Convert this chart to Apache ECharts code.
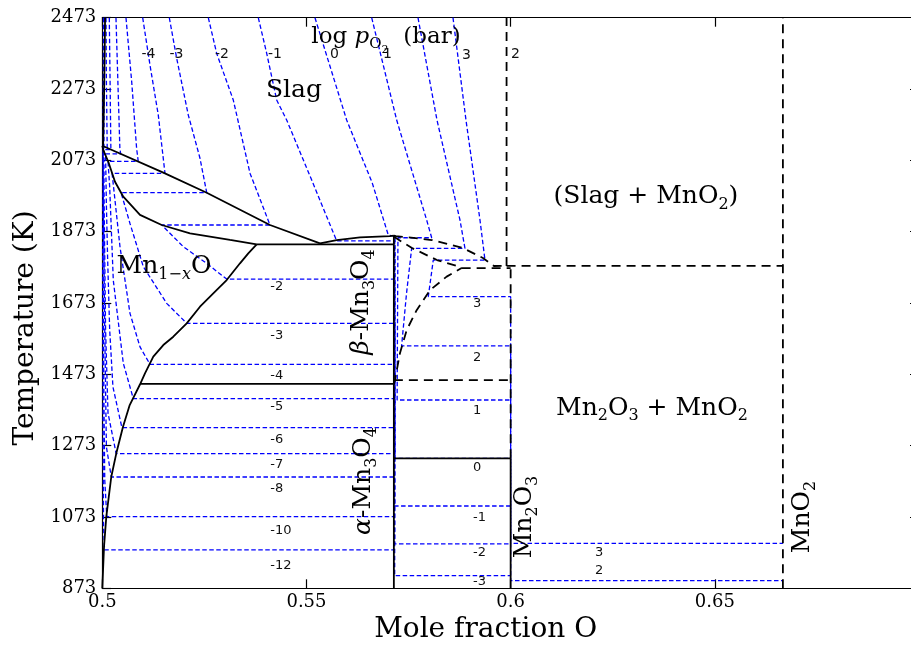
<!DOCTYPE html>
<html>
<head>
<meta charset="utf-8">
<script src="https://cdn.jsdelivr.net/npm/echarts/dist/echarts.min.js"></script>
<style>
  html, body { margin: 0; padding: 0; background: #fff; }
  #chart { width: 911px; height: 645px; }
</style>
</head>
<body>
<div id="chart"></div>
<script>
// ---- axis ticks ----
const tempTicks = [873, 1073, 1273, 1473, 1673, 1873, 2073, 2273, 2473];   // K
const xoTicks = [0.5, 0.55, 0.6, 0.65, 0.7];                              // mole fraction O
const xoLabelled = [0.5, 0.55, 0.6, 0.65];

// ---- phase boundaries, solid: [x_O, T(K)] ----
const liquidusMnO = [[0.5, 2114], [0.51494, 2038.4], [0.52557, 1982.3], [0.54107, 1891.7], [0.55331, 1840.4]];
const solidusMnO = [[0.5, 2114], [0.5003, 2100], [0.50147, 2069], [0.50311, 2013], [0.50514, 1971], [0.50923, 1920],
  [0.51455, 1891.7], [0.52148, 1868.5], [0.53128, 1849.7], [0.53781, 1837.6]];
const slagEdge = [[0.50068, 2473], [0.5005, 2300], [0.5002, 2114]];
const solvusMnO = [[0.5, 873], [0.50042, 989.5], [0.50098, 1073.7], [0.5022, 1185.8], [0.50343, 1251.5], [0.50507, 1326],
  [0.50671, 1386.9], [0.50916, 1443], [0.51045, 1475.8], [0.51249, 1522.4], [0.51494, 1555.1], [0.51739, 1578.4],
  [0.52067, 1616], [0.52392, 1662.6], [0.52718, 1700.1], [0.53046, 1737.4], [0.53372, 1784.3], [0.53575, 1812.3],
  [0.53781, 1837.6]];
const eutecticLine = [[0.53781, 1837.6], [0.5714, 1837.6]];
const liquidusMn3O4 = [[0.55331, 1840.4], [0.5574, 1849.5], [0.5631, 1857], [0.57045, 1860.6], [0.5714, 1862]];
const mn3o4Line = [[0.5714, 873], [0.5714, 1862]];
const alphaBetaLine = [[0.5093, 1446], [0.5714, 1446]];
const mn2o3Decomp = [[0.5714, 1237.5], [0.6, 1237.5]];
const mn2o3Low = [[0.6, 873], [0.6, 1237.5]];

// ---- estimated boundaries, dashed ----
const liquidusOUpper = [[0.5714, 1862], [0.57192, 1860.8], [0.58073, 1849.6], [0.58832, 1827.2], [0.59322, 1799.2],
  [0.59591, 1776.8], [0.5963, 1772], [0.599, 1777]];
const liquidusOLower = [[0.5714, 1860], [0.57192, 1855], [0.57584, 1827], [0.58196, 1793.5], [0.58759, 1774], [0.588, 1771]];
const peritecticLine = [[0.588, 1771], [0.6, 1771]];
const solvusMn3O4 = [[0.5714, 1446], [0.57167, 1457], [0.57289, 1532], [0.57454, 1597], [0.57698, 1653], [0.58024, 1709],
  [0.58433, 1747], [0.588, 1771]];
const betaMn2O3Line = [[0.5714, 1457], [0.6, 1457]];
const mn2o3High = [[0.6, 1237.5], [0.6, 1777]];
const slagMnO2Left = [[0.599, 1777], [0.599, 2473]];
const slagMnO2Base = [[0.599, 1777], [0.66667, 1777]];
const mno2Line = [[0.66667, 873], [0.66667, 2473]];

// ---- oxygen isobars, log pO2 (bar) ----
const isoM12 = [[0.5003, 2473], [0.5002, 2112], [0.5001, 1800], [0.5002, 1300], [0.5003, 1050], [0.50055, 980.5], [0.5714, 980.5]];
const isoM10 = [[0.5005, 2473], [0.5004, 2111], [0.5002, 1800], [0.5004, 1400], [0.5006, 1177], [0.5011, 1073.8], [0.5714, 1073.8]];
const isoM8 = [[0.50091, 2473], [0.501, 2300], [0.5012, 2108], [0.5002, 2108], [0.5003, 1900], [0.5006, 1600], [0.501, 1270],
  [0.5022, 1185.1], [0.5714, 1185.1]];
const isoM7 = [[0.50171, 2473], [0.5019, 2300], [0.5021, 2103], [0.5003, 2103], [0.5005, 1900], [0.5008, 1600], [0.5014, 1364],
  [0.5034, 1250.5], [0.5714, 1250.5]];
const isoM6 = [[0.50335, 2473], [0.5038, 2300], [0.5043, 2107], [0.5045, 2091], [0.5008, 2091], [0.501, 1950], [0.5013, 1800],
  [0.5018, 1600], [0.5026, 1438], [0.5048, 1323.4], [0.5714, 1323.4]];
const isoM5 = [[0.5058, 2473], [0.5072, 2293.5], [0.5084, 2106.8], [0.5088, 2070], [0.5014, 2070], [0.5018, 2000], [0.50269, 1737],
  [0.50514, 1504], [0.50759, 1405], [0.5714, 1405]];
const isoM4 = [[0.50989, 2473], [0.51168, 2340], [0.51371, 2200], [0.51535, 2036.6], [0.5024, 2036.6], [0.50433, 1830.8],
  [0.50678, 1644], [0.50923, 1550], [0.51168, 1501], [0.5714, 1501]];
const isoM3 = [[0.51641, 2473], [0.51822, 2359], [0.52106, 2200], [0.52392, 2079], [0.52557, 1982.3], [0.5046, 1982.3],
  [0.50678, 1896], [0.51004, 1775], [0.51577, 1672], [0.52067, 1616], [0.5716, 1616], [0.5716, 908.4], [0.6, 908.4]];
const isoM2 = [[0.52596, 2473], [0.52801, 2373], [0.53208, 2242], [0.53617, 2037], [0.54107, 1891.7], [0.51455, 1891.7],
  [0.51983, 1831], [0.52556, 1784], [0.53046, 1740], [0.5716, 1740], [0.5716, 997.3], [0.6, 997.3]];
const isoM1 = [[0.5382, 2473], [0.54026, 2373], [0.54271, 2242], [0.54515, 2186], [0.55128, 2017.6], [0.5574, 1847],
  [0.5716, 1847], [0.5716, 1103.8], [0.6, 1103.8]];
const iso0 = [[0.55208, 2473], [0.55984, 2186], [0.5661, 2010], [0.57003, 1863.6], [0.5717, 1860], [0.5717, 1237.5], [0.6, 1237.5]];
const iso1 = [[0.56597, 2473], [0.57209, 2186], [0.57943, 1905.7], [0.58066, 1856], [0.5724, 1856], [0.5722, 1401], [0.6, 1401]];
const iso2 = [[0.57731, 2473], [0.58196, 2186], [0.58759, 1905.7], [0.58881, 1826.3], [0.57576, 1826.3], [0.5745, 1700],
  [0.5733, 1553], [0.6, 1553], [0.6, 894.3], [0.66667, 894.3]];
const iso3 = [[0.58588, 2473], [0.58906, 2186], [0.59249, 1905.7], [0.59371, 1793.5], [0.58105, 1793.5], [0.57983, 1690.6],
  [0.6, 1690.6], [0.6, 999.2], [0.66667, 999.2]];

// ---- isobar value labels: [x_O, T, text] ----
const isobarTopLabels = [[0.50958, 2371, '-4'], [0.51645, 2371, '-3'], [0.5276, 2371, '-2'], [0.54057, 2371, '-1'],
  [0.55575, 2371, '0'], [0.56873, 2371, '1'], [0.58808, 2368, '3'], [0.60008, 2371, '2']];
const isobarInnerLabels = [[0.54113, 1717.8, '-2'], [0.54113, 1580.4, '-3'], [0.54113, 1468.2, '-4'], [0.54113, 1381.3, '-5'],
  [0.54113, 1288.7, '-6'], [0.54113, 1218.6, '-7'], [0.54113, 1151.3, '-8'], [0.54113, 1033.5, '-10'], [0.54113, 935.4, '-12'],
  [0.59077, 1670.1, '3'], [0.59077, 1518.7, '2'], [0.59077, 1370.1, '1'], [0.59077, 1210.3, '0'], [0.59077, 1070.1, '-1'],
  [0.59077, 971.9, '-2'], [0.59077, 890.6, '-3'], [0.62065, 971.9, '3'], [0.62065, 921.4, '2']];

// ---- phase field names (rich text) ----
const phaseNames = [
  { at: [0.56947, 2419], text: '{t|log }{ti|p}{ts|O}{tss|2}{t|  (bar)}', rotate: 0 },
  { at: [0.54694, 2270], text: '{n|Slag}', rotate: 0 },
  { at: [0.51511, 1774], text: '{n|Mn}{s|1\u2212}{si|x}{n|O}', rotate: 0 },
  { at: [0.56359, 1676], text: '{ni|\u03b2}{n|-Mn}{s|3}{n|O}{s|4}', rotate: 90 },
  { at: [0.56408, 1174], text: '{ni|\u03b1}{n|-Mn}{s|3}{n|O}{s|4}', rotate: 90 },
  { at: [0.6035, 1073], text: '{n|Mn}{s|2}{n|O}{s|3}', rotate: 90 },
  { at: [0.67157, 1073], text: '{n|MnO}{s|2}', rotate: 90 },
  { at: [0.63313, 1972], text: '{n|(Slag + MnO}{s|2}{n|)}', rotate: 0 },
  { at: [0.6346, 1378], text: '{n|Mn}{s|2}{n|O}{s|3}{n| + MnO}{s|2}', rotate: 0 }
];

const SERIF = 'DejaVu Serif';
const SANS = 'DejaVu Sans';

const lineKinds = {
  solid: { color: '#000', width: 1.8, type: 'solid' },
  dash:  { color: '#000', width: 1.8, type: [9, 6] },
  iso:   { color: '#0000ff', width: 1.3, type: [4.5, 2.5] }
};

function path(name, data, kind) {
  return {
    type: 'line', name, data, symbol: 'none', silent: true, clip: true,
    z: kind === 'iso' ? 2 : 3,
    lineStyle: Object.assign({}, lineKinds[kind])
  };
}

const isobars = { isoM12, isoM10, isoM8, isoM7, isoM6, isoM5, isoM4, isoM3, isoM2, isoM1, iso0, iso1, iso2, iso3 };
const solids = { liquidusMnO, solidusMnO, slagEdge, solvusMnO, eutecticLine, liquidusMn3O4, mn3o4Line, alphaBetaLine, mn2o3Decomp, mn2o3Low };
const dashes = { liquidusOUpper, liquidusOLower, peritecticLine, solvusMn3O4, betaMn2O3Line, mn2o3High, slagMnO2Left, slagMnO2Base, mno2Line };

const series = [];
Object.keys(isobars).forEach(k => series.push(path(k, isobars[k], 'iso')));
Object.keys(solids).forEach(k => series.push(path(k, solids[k], 'solid')));
Object.keys(dashes).forEach(k => series.push(path(k, dashes[k], 'dash')));

const plain = { textBorderWidth: 0, textShadowBlur: 0, opacity: 1 };
const subPad = [16, 0, 0, 0];
const richStyles = {
  n:   Object.assign({ fontFamily: SERIF, fontSize: 25, color: '#000' }, plain),
  ni:  Object.assign({ fontFamily: SERIF, fontSize: 25, fontStyle: 'italic', color: '#000' }, plain),
  s:   Object.assign({ fontFamily: SERIF, fontSize: 16, color: '#000', padding: subPad }, plain),
  si:  Object.assign({ fontFamily: SERIF, fontSize: 16, fontStyle: 'italic', color: '#000', padding: subPad }, plain),
  t:   Object.assign({ fontFamily: SERIF, fontSize: 23, color: '#000' }, plain),
  ti:  Object.assign({ fontFamily: SERIF, fontSize: 23, fontStyle: 'italic', color: '#000' }, plain),
  ts:  Object.assign({ fontFamily: SERIF, fontSize: 15, color: '#000', padding: [14, 0, 0, 0] }, plain),
  tss: Object.assign({ fontFamily: SERIF, fontSize: 11, color: '#000', padding: [26, 0, 0, 0] }, plain)
};

const labelSeriesBase = {
  type: 'scatter', symbolSize: 0, silent: true, z: 5,
  itemStyle: { opacity: 1 }, emphasis: { disabled: true }
};

series.push(Object.assign({}, labelSeriesBase, {
  name: 'phase names',
  data: phaseNames.map(p => ({ value: p.at, text: p.text, label: { rotate: p.rotate } })),
  label: Object.assign({ show: true, position: 'inside', color: '#000', formatter: p => p.data.text, rich: richStyles }, plain)
}));
series.push(Object.assign({}, labelSeriesBase, {
  name: 'isobar labels top',
  data: isobarTopLabels.map(r => ({ value: [r[0], r[1]], text: r[2] })),
  label: Object.assign({ show: true, position: 'right', distance: 0, formatter: p => p.data.text,
           fontFamily: SANS, fontSize: 14, color: '#111' }, plain)
}));
series.push(Object.assign({}, labelSeriesBase, {
  name: 'isobar labels',
  data: isobarInnerLabels.map(r => ({ value: [r[0], r[1]], text: r[2] })),
  label: Object.assign({ show: true, position: 'right', distance: 0, formatter: p => p.data.text,
           fontFamily: SANS, fontSize: 13, color: '#111' }, plain)
}));

const tempInterval = tempTicks[1] - tempTicks[0];
const xoInterval = xoTicks[1] - xoTicks[0];

const axisCommon = {
  axisLine: { show: true, onZero: false, lineStyle: { color: '#000', width: 1.2 } },
  axisTick: { show: true, inside: true, length: 9, lineStyle: { color: '#000', width: 1.2 } },
  splitLine: { show: false }
};

function xoLabel(v) {
  const r = parseFloat(v.toFixed(3));
  return xoLabelled.indexOf(r) >= 0 ? String(r) : '';
}

const chart = echarts.init(document.getElementById('chart'), null, { renderer: 'canvas' });
chart.setOption({
  animation: false,
  backgroundColor: '#fff',
  grid: { left: 102.3, top: 17.7, width: 816.7, height: 570.6, containLabel: false, outerBoundsMode: 'none' },
  xAxis: [
    Object.assign({
      type: 'value', position: 'bottom',
      min: xoTicks[0], max: xoTicks[xoTicks.length - 1], interval: xoInterval,
      name: 'Mole fraction O', nameLocation: 'middle', nameGap: 22,
      nameTextStyle: { fontFamily: SERIF, fontSize: 28, color: '#000', padding: [0, 50, 0, 0] },
      axisLabel: { fontFamily: SERIF, fontSize: 18, color: '#000', margin: 5, formatter: xoLabel }
    }, axisCommon),
    Object.assign({
      type: 'value', position: 'top',
      min: xoTicks[0], max: xoTicks[xoTicks.length - 1], interval: xoInterval,
      axisLabel: { show: false }
    }, axisCommon)
  ],
  yAxis: [
    Object.assign({
      type: 'value', position: 'left',
      min: tempTicks[0], max: tempTicks[tempTicks.length - 1], interval: tempInterval,
      name: 'Temperature (K)', nameLocation: 'middle', nameGap: 60,
      nameTextStyle: { fontFamily: SERIF, fontSize: 28, color: '#000', padding: [0, 50, 0, 0] },
      axisLabel: { fontFamily: SERIF, fontSize: 18, color: '#000', margin: 6,
                   formatter: v => String(Math.round(v)) }
    }, axisCommon),
    Object.assign({
      type: 'value', position: 'right',
      min: tempTicks[0], max: tempTicks[tempTicks.length - 1], interval: tempInterval,
      axisLabel: { show: false }
    }, axisCommon)
  ],
  series: series
});
</script>
</body>
</html>
